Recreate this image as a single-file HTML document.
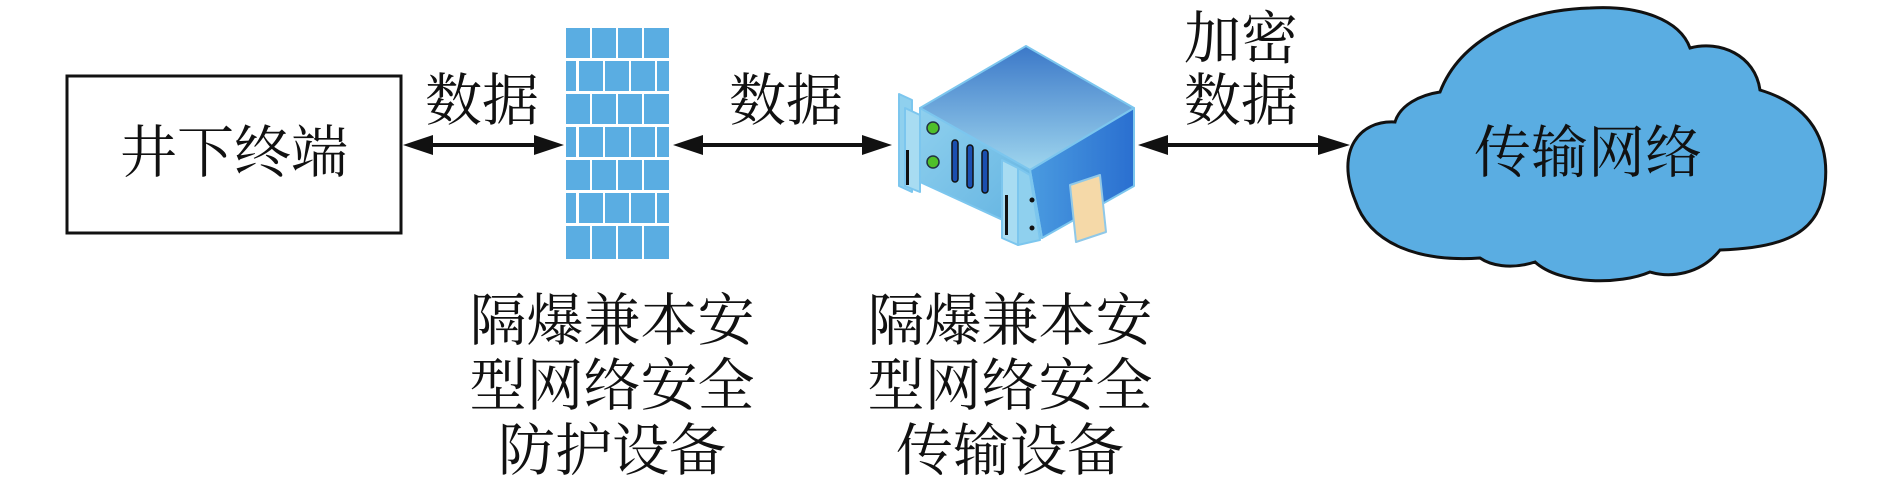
<!DOCTYPE html>
<html><head><meta charset="utf-8"><style>
html,body{margin:0;padding:0;background:#fff;}
svg{display:block}
text{font-family:"Liberation Serif","Noto Serif CJK SC",serif;fill:#111;}
</style></head><body>
<svg width="1890" height="495" viewBox="0 0 1890 495" xmlns="http://www.w3.org/2000/svg">
<defs>
<linearGradient id="top" x1="0" y1="0" x2="0" y2="1"><stop offset="0" stop-color="#3b78c8"/><stop offset="1" stop-color="#9fd6ee"/></linearGradient>
<linearGradient id="front" x1="0" y1="0" x2="1" y2="1"><stop offset="0" stop-color="#8fd0ee"/><stop offset="1" stop-color="#5eb0e0"/></linearGradient>
<linearGradient id="side" x1="0" y1="0" x2="1" y2="0"><stop offset="0" stop-color="#4a9be0"/><stop offset="1" stop-color="#2a6fd0"/></linearGradient>
</defs>

<rect x="67" y="76" width="334" height="157" fill="#fff" stroke="#111" stroke-width="3"/>
<text x="234" y="172" font-size="57" text-anchor="middle">井下终端</text>

<g stroke="#111" stroke-width="4">
<line x1="425" y1="145" x2="540" y2="145"/>
<line x1="700" y1="145" x2="865" y2="145"/>
<line x1="1165" y1="145" x2="1322" y2="145"/>
</g>
<g fill="#111">
<polygon points="403,145 433,135 433,155"/>
<polygon points="564,145 534,135 534,155"/>
<polygon points="673,145 703,135 703,155"/>
<polygon points="892,145 862,135 862,155"/>
<polygon points="1138,145 1168,135 1168,155"/>
<polygon points="1350,145 1318,135 1318,155"/>
</g>
<text x="482" y="120" font-size="57" text-anchor="middle">数据</text>
<text x="786" y="120" font-size="57" text-anchor="middle">数据</text>
<text x="1241" y="58" font-size="57" text-anchor="middle">加密</text>
<text x="1241" y="120" font-size="57" text-anchor="middle">数据</text>

<g fill="#5aade2">
<rect x="566" y="28" width="24" height="30"/><rect x="592" y="28" width="24" height="30"/><rect x="618" y="28" width="24" height="30"/><rect x="644" y="28" width="25" height="30"/>
<rect x="566" y="61" width="10" height="30"/><rect x="579" y="61" width="24" height="30"/><rect x="605" y="61" width="24" height="30"/><rect x="631" y="61" width="24" height="30"/><rect x="657" y="61" width="12" height="30"/>
<rect x="566" y="94" width="24" height="30"/><rect x="592" y="94" width="24" height="30"/><rect x="618" y="94" width="24" height="30"/><rect x="644" y="94" width="25" height="30"/>
<rect x="566" y="127" width="10" height="30"/><rect x="579" y="127" width="24" height="30"/><rect x="605" y="127" width="24" height="30"/><rect x="631" y="127" width="24" height="30"/><rect x="657" y="127" width="12" height="30"/>
<rect x="566" y="160" width="24" height="30"/><rect x="592" y="160" width="24" height="30"/><rect x="618" y="160" width="24" height="30"/><rect x="644" y="160" width="25" height="30"/>
<rect x="566" y="193" width="10" height="30"/><rect x="579" y="193" width="24" height="30"/><rect x="605" y="193" width="24" height="30"/><rect x="631" y="193" width="24" height="30"/><rect x="657" y="193" width="12" height="30"/>
<rect x="566" y="226" width="24" height="33"/><rect x="592" y="226" width="24" height="33"/><rect x="618" y="226" width="24" height="33"/><rect x="644" y="226" width="25" height="33"/>
</g>

<g stroke="#7cc6ee" stroke-width="2" stroke-linejoin="round">
<polygon points="920,108 1026,46 1134,108 1030,170" fill="url(#top)"/>
<polygon points="1030,170 1134,108 1134,186 1042,238" fill="url(#side)"/>
<polygon points="920,108 1030,170 1042,238 920,182" fill="url(#front)"/>
<polygon points="899,94 912,100 912,192 899,186" fill="#8fd0ee"/>
<polygon points="905,108 920,115 920,192 905,186" fill="#a8dcf2"/>
<polygon points="1002,160 1018,168 1018,245 1002,238" fill="#a8dcf2"/>
<polygon points="1018,168 1030,175 1040,240 1018,245" fill="#8fd0ee"/>
<polygon points="1070,185 1100,175 1106,232 1076,242" fill="#f5d9a8" stroke="#8fc8e8"/>
</g>
<rect x="906" y="150" width="3" height="35" fill="#111"/>
<rect x="1005" y="195" width="3" height="40" fill="#111"/>
<circle cx="933" cy="128" r="6" fill="#4fbf2a" stroke="#234" stroke-width="1.5"/>
<circle cx="933" cy="162" r="6" fill="#4fbf2a" stroke="#234" stroke-width="1.5"/>
<g fill="#1b4fb0" stroke="#111" stroke-width="1.5">
<rect x="952" y="140" width="6" height="42" rx="3"/>
<rect x="967" y="145" width="6" height="43" rx="3"/>
<rect x="982" y="150" width="6" height="43" rx="3"/>
</g>
<circle cx="1032" cy="200" r="2.5" fill="#111"/>
<circle cx="1032" cy="228" r="2.5" fill="#111"/>

<path d="M1355,200 C1335,150 1360,120 1395,122 C1400,105 1420,95 1440,92 C1460,40 1520,10 1590,8 C1640,5 1680,20 1690,48 C1720,40 1755,55 1760,90 C1810,105 1830,140 1825,185 C1820,230 1790,248 1720,250 C1700,275 1670,278 1650,272 C1620,285 1560,285 1535,262 C1510,270 1490,265 1480,258 C1420,262 1370,245 1355,200 Z" fill="#5aade2" stroke="#111" stroke-width="3"/>
<text x="1588" y="172" font-size="57" text-anchor="middle">传输网络</text>

<g font-size="57" text-anchor="middle">
<text x="612" y="340">隔爆兼本安</text>
<text x="612" y="405">型网络安全</text>
<text x="612" y="470">防护设备</text>
<text x="1010" y="340">隔爆兼本安</text>
<text x="1010" y="405">型网络安全</text>
<text x="1010" y="470">传输设备</text>
</g>
</svg>
</body></html>
